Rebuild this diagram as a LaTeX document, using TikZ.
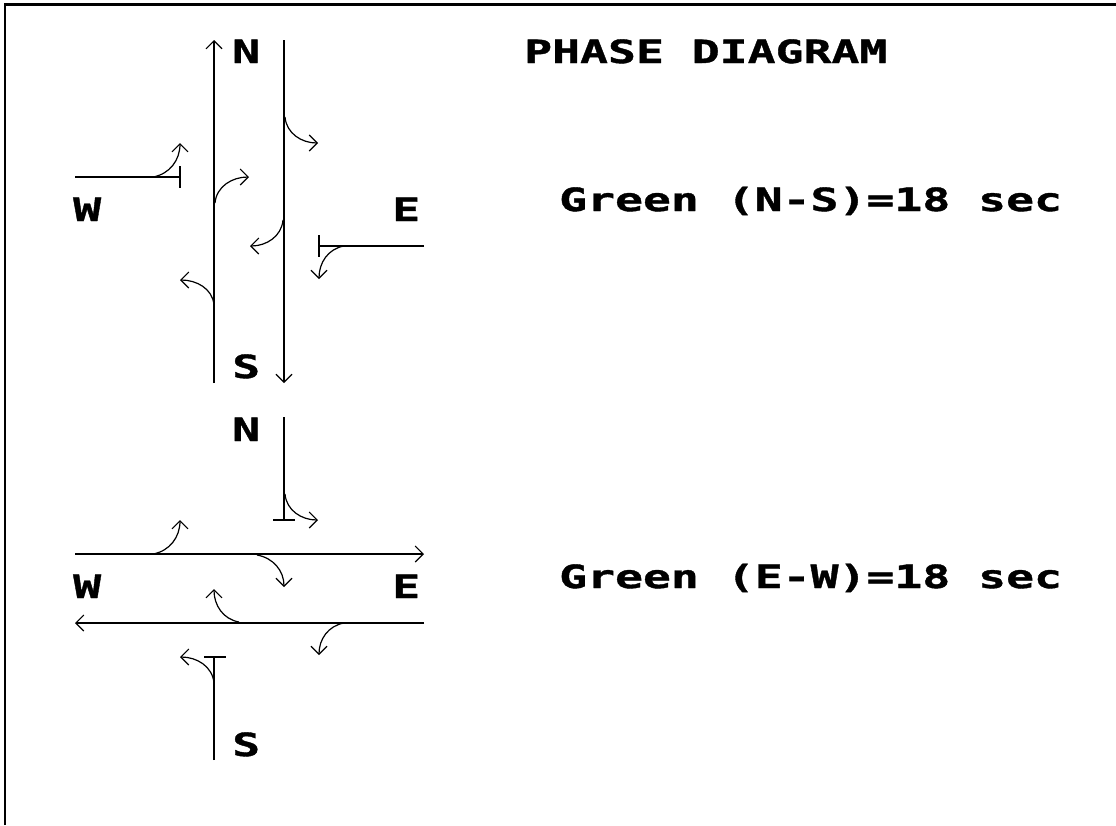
\documentclass[tikz,border=0pt]{standalone}
\usepackage{fontspec}
\usetikzlibrary{arrows.meta}
\newfontfamily\pixfont[FakeStretch=1.45,FakeBold=1.2]{DejaVu Sans Mono Bold}
\tikzset{
  x=1pt,y=-1pt,
  road/.style={line width=1.8pt,black},
  roadarrow/.style={road,-{Straight Barb[length=8pt,width=16pt,line width=1.1pt]}},
  turn/.style={line width=1.2pt,black,-{Straight Barb[length=8pt,width=16pt,line width=1.1pt]}},
  stopbar/.style={line width=1.8pt,black},
  bigtext/.style={inner sep=0pt,anchor=base west,font=\pixfont\fontsize{32}{32}\selectfont,text=black},
}
\begin{document}
\begin{tikzpicture}
\useasboundingbox (0,0) rectangle (1116,825);
% frame
\coordinate (fbl) at (5,825); \coordinate (ftl) at (5,4.7);
\coordinate (ftr) at (1116,4.7);
\draw[line width=2.5pt,black] (fbl) -- (ftl) -- (ftr);
% labels
\node[bigtext] (title) at (524,63) {PHASE DIAGRAM};
\node[bigtext] (gns) at (559,211) {Green (N-S)=18 sec};
\node[bigtext] (gew) at (559,588) {Green (E-W)=18 sec};
\node[bigtext] (n1) at (232,63) {N};
\node[bigtext] (w1) at (73,221) {W};
\node[bigtext] (e1) at (392,221) {E};
\node[bigtext] (s1) at (232,378) {S};
\node[bigtext] (n2) at (232,441) {N};
\node[bigtext] (w2) at (73,598) {W};
\node[bigtext] (e2) at (392,598) {E};
\node[bigtext] (s2) at (232,756) {S};
% upper phase: through roads
\coordinate (a1) at (214,383); \coordinate (a2) at (214,40);
\coordinate (b1) at (284,40);  \coordinate (b2) at (284,383);
\draw[roadarrow] (a1) -- (a2);
\draw[roadarrow] (b1) -- (b2);
\coordinate (c1) at (75,177); \coordinate (c2) at (180,177);
\coordinate (c3) at (180,166); \coordinate (c4) at (180,188);
\draw[road] (c1) -- (c2);
\draw[stopbar] (c3) -- (c4);
\coordinate (d1) at (424,246); \coordinate (d2) at (319,246);
\coordinate (d3) at (319,235); \coordinate (d4) at (319,257);
\draw[road] (d1) -- (d2);
\draw[stopbar] (d3) -- (d4);
% upper phase: turns
\coordinate (t1s) at (153,177); \coordinate (t1e) at (180,143);
\coordinate (t2s) at (215,203); \coordinate (t2e) at (249,177);
\coordinate (t3s) at (214,305); \coordinate (t3e) at (180,280);
\coordinate (t4s) at (285,117); \coordinate (t4e) at (318,143);
\coordinate (t5s) at (283,220); \coordinate (t5e) at (250,246);
\coordinate (t6s) at (344,246); \coordinate (t6e) at (319,279);
\draw[turn] (t1s) to[out=10,in=-90] (t1e);
\draw[turn] (t2s) to[out=85,in=180] (t2e);
\draw[turn] (t3s) to[out=95,in=0] (t3e);
\draw[turn] (t4s) to[out=-85,in=180] (t4e);
\draw[turn] (t5s) to[out=-95,in=0] (t5e);
\draw[turn] (t6s) to[out=190,in=90] (t6e);
% lower phase: roads
\coordinate (e1a) at (284,417); \coordinate (e1b) at (284,520);
\coordinate (e1c) at (273,520); \coordinate (e1d) at (295,520);
\draw[road] (e1a) -- (e1b);
\draw[stopbar] (e1c) -- (e1d);
\coordinate (f1) at (75,554); \coordinate (f2) at (424,554);
\draw[roadarrow] (f1) -- (f2);
\coordinate (g1) at (424,623); \coordinate (g2) at (75,623);
\draw[roadarrow] (g1) -- (g2);
\coordinate (h1) at (214,760); \coordinate (h2) at (214,657);
\coordinate (h3) at (204,657); \coordinate (h4) at (226,657);
\draw[road] (h1) -- (h2);
\draw[stopbar] (h3) -- (h4);
% lower phase: turns
\coordinate (u1s) at (285,494); \coordinate (u1e) at (318,520);
\coordinate (u2s) at (153,554); \coordinate (u2e) at (180,520);
\coordinate (u3s) at (257,555); \coordinate (u3e) at (284,587);
\coordinate (u4s) at (239,622); \coordinate (u4e) at (214,589);
\coordinate (u5s) at (344,623); \coordinate (u5e) at (319,655);
\coordinate (u6s) at (214,683); \coordinate (u6e) at (180,657);
\draw[turn] (u1s) to[out=-85,in=180] (u1e);
\draw[turn] (u2s) to[out=10,in=-90] (u2e);
\draw[turn] (u3s) to[out=-10,in=90] (u3e);
\draw[turn] (u4s) to[out=170,in=-90] (u4e);
\draw[turn] (u5s) to[out=190,in=90] (u5e);
\draw[turn] (u6s) to[out=95,in=0] (u6e);
\end{tikzpicture}
\end{document}
